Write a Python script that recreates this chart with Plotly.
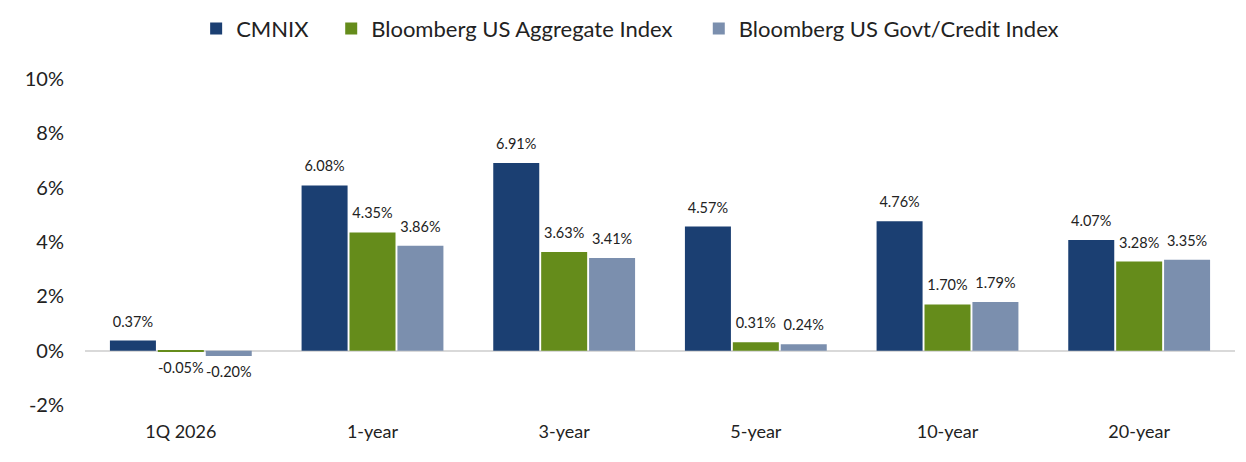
import plotly.graph_objects as go

# data
periods = ["1Q 2026", "1-year", "3-year", "5-year", "10-year", "20-year"]
cmnix = [0.37, 6.08, 6.91, 4.57, 4.76, 4.07]
agg = [-0.05, 4.35, 3.63, 0.31, 1.70, 3.28]
govt_credit = [-0.20, 3.86, 3.41, 0.24, 1.79, 3.35]
y_ticks = [-2, 0, 2, 4, 6, 8, 10]

series = [
    ("CMNIX", cmnix, "#1b3f72", "legend", 0.151),
    ("Bloomberg US Aggregate Index", agg, "#658c1b", "legend2", 0.2594),
    ("Bloomberg US Govt/Credit Index", govt_credit, "#7b8fae", "legend3", 0.5544),
]

fig = go.Figure()
for i, (name, vals, color, leg, lx) in enumerate(series):
    grp = f"g{i}"
    fig.add_trace(go.Bar(
        x=periods, y=vals, name=name, offsetgroup=grp, legend=leg,
        marker=dict(color=color, line=dict(width=0)),
    ))
    # value labels, lifted off the bar ends by an invisible marker
    fig.add_trace(go.Scatter(
        x=periods, y=vals, offsetgroup=grp, mode="markers+text",
        marker=dict(size=15, opacity=0),
        text=[f"{v:.2f}%" for v in vals],
        textposition=["top center" if v >= 0 else "bottom center" for v in vals],
        textfont=dict(size=14.5, color="#222222"),
        showlegend=False, hoverinfo="skip", cliponaxis=False,
    ))

legend_style = dict(orientation="h", xref="container", xanchor="left",
                    y=0.955, yref="container", yanchor="middle",
                    font=dict(size=22), itemwidth=30)

fig.update_layout(
    width=1246, height=462,
    barmode="group", bargap=0.25, bargroupgap=0.04,
    scattermode="group", scattergap=0.25,
    plot_bgcolor="white", paper_bgcolor="white",
    font=dict(family="Lato, 'Open Sans', sans-serif", color="#222222"),
    margin=dict(l=77, r=19, t=71, b=65),
    legend=dict(legend_style, x=series[0][4]),
    legend2=dict(legend_style, x=series[1][4]),
    legend3=dict(legend_style, x=series[2][4]),
)
fig.update_xaxes(showline=False, showgrid=False, ticks="",
                 tickfont=dict(size=18), ticklabelstandoff=14)
fig.update_yaxes(range=[-2, 10], tickvals=y_ticks,
                 ticktext=[f"{t}%" for t in y_ticks],
                 showgrid=False, showline=False,
                 zeroline=True, zerolinecolor="#d9d9d9", zerolinewidth=1.5,
                 tickfont=dict(size=20), ticklabelstandoff=20)

fig.write_html("out.html")
